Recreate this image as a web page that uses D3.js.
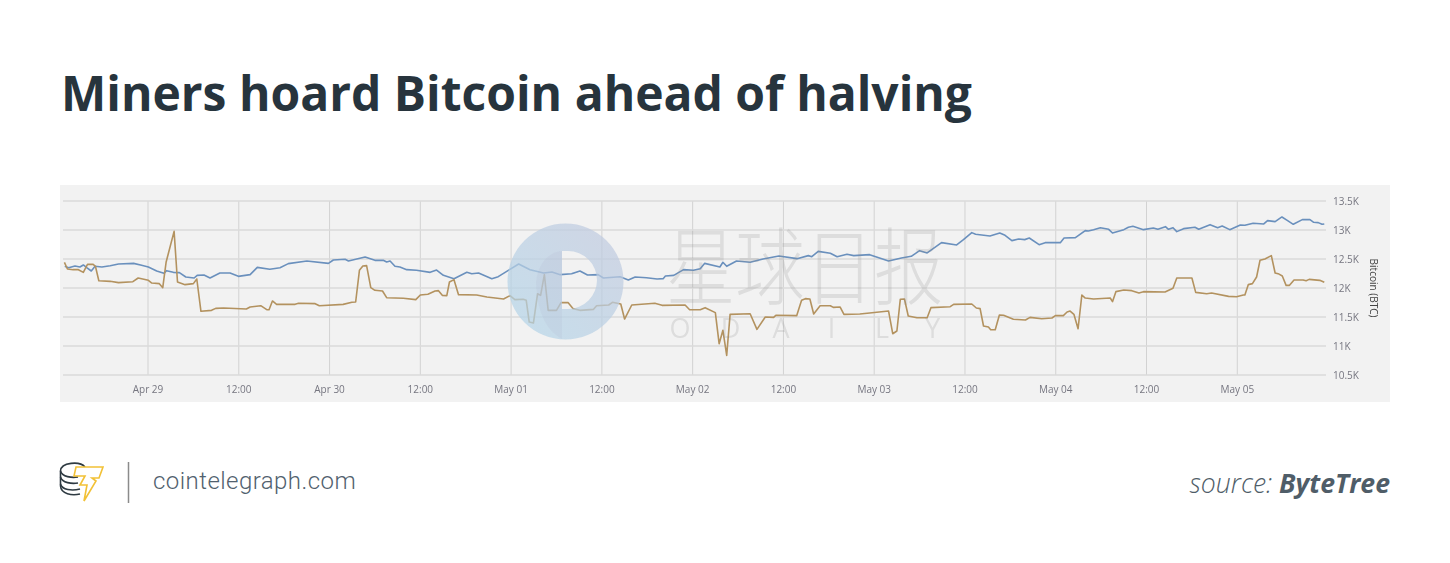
<!DOCTYPE html>
<html>
<head>
<meta charset="utf-8">
<script src="https://cdn.jsdelivr.net/npm/d3@7"></script>
<style>
  html, body { margin: 0; padding: 0; background: #fff; }
  svg { display: block; }
</style>
</head>
<body>
<div class="chart"></div>
<script>
// hours counted from Apr 29 00:00
const blueHours = [-11,-10.5,-9.65,-9,-8.55,-8.1,-7.5,-7,-6.1,-5,-3.9,-1.9,-0.85,0.05,1.15,2.1,2.45,3.35,4.15,5,6.1,6.5,7.4,8.2,9.5,10.85,11.95,13.5,14.45,16.1,17.45,18.55,21,23.85,24.5,26.05,26.5,28.7,30,31.1,31.55,32,32.65,33.3,34.2,35.5,37.3,38.15,39.05,40.45,42.15,42.8,43.7,45.45,46.3,47.85,49,50.5,52.3,53.4,54.5,56,57.1,58.1,59.5,60.2,62.4,63.5,64.4,65.9,67.3,68.1,68.4,69.5,70.8,72.1,73,73.6,75.6,76,76.5,77.8,79.6,81.3,83.4,85.8,87.3,87.75,88.6,90.2,91.1,92.4,93.3,95.4,97.9,99.6,100.9,102,103,104.9,106.9,107.8,108.9,109.4,111.3,112.6,113.3,114.2,115.1,115.9,116.5,117.8,118.6,120.6,121.1,122.6,123.9,124.3,125,125.9,127,127.5,129,129.6,130.2,131.6,132.9,133.5,134.5,134.9,135.5,136,136.9,138.4,138.9,140.4,141.4,142,143,144.4,145,146.1,147.5,148,149,149.9,150.6,151.4,152.6,153.6,154.1,154.7,155.2,155.5];
const blueValues = [12374,12350,12380,12362,12397,12350,12293,12374,12362,12385,12414,12425,12391,12362,12293,12253,12299,12270,12265,12190,12172,12218,12224,12172,12259,12259,12201,12230,12356,12322,12350,12420,12466,12425,12483,12495,12466,12535,12477,12477,12448,12466,12374,12362,12316,12305,12270,12310,12218,12161,12270,12247,12259,12161,12195,12322,12414,12316,12259,12276,12230,12247,12293,12224,12230,12172,12195,12138,12190,12178,12155,12161,12207,12218,12316,12305,12333,12425,12362,12443,12374,12466,12443,12500,12552,12506,12558,12540,12632,12598,12540,12581,12558,12575,12466,12518,12546,12644,12604,12782,12742,12834,12955,12926,12897,12949,12908,12817,12845,12834,12862,12747,12782,12782,12862,12868,12989,12983,13006,13040,13012,12949,13006,13047,13064,13006,13035,13012,13058,13012,13040,12972,13023,13047,13012,13092,13040,13069,13006,13087,13081,13116,13104,13162,13144,13225,13167,13098,13179,13179,13133,13127,13098,13104];

const brownHours = [-11.05,-10.65,-9.9,-9.2,-8.55,-8,-7.25,-6.95,-6.5,-5,-3.9,-2,-1.3,0.05,0.5,1.5,1.95,2.4,3.45,3.9,4.9,6,6.45,7,8.4,8.95,10,13,13.5,14.9,15.7,16,16.45,17,19.45,19.9,22.1,22.65,25.8,26.95,27.45,27.95,28.4,28.9,29.45,30,31,31.55,33.75,35.4,36,37,37.95,38.4,38.9,39.5,39.85,40.45,41.05,43.45,44.8,47,47.85,48.5,49.6,50,50.4,50.95,51.5,51.9,52.4,52.9,54,54.6,55.55,56.2,57.1,58.9,59.3,60.9,61.4,62.5,63,63.95,67,67.95,71,71.6,73,73.65,75,75.5,76,76.5,76.95,79.6,80.5,81.6,82.7,83,85.75,86.4,86.9,87.5,88,88.85,90.2,90.6,91.5,92,94.1,95.4,97.9,98.45,99,99.45,100,100.5,101.65,103,103.5,106.05,106.5,108.9,109.5,110,110.45,111.1,111.4,112,112.55,113.1,114.4,116,116.6,118.15,119.5,119.95,121,121.5,121.9,122.4,122.95,123.45,123.9,125,127.2,127.5,127.95,129,130.05,131,131.6,134.45,135.5,136,138,138.5,139.95,140.6,142.85,143.9,144.8,145,145.45,146,146.55,147,147.65,148.5,149,149.4,149.95,150.45,150.9,151.5,152.7,153.1,153.5,154.9,155.5];
const brownValues = [12443,12328,12316,12316,12270,12408,12408,12374,12126,12115,12092,12109,12172,12132,12086,12075,12006,12449,12977,12103,12058,12075,12155,11598,11615,11649,11655,11638,11672,11695,11626,11626,11776,11718,11718,11736,11730,11695,11718,11753,11759,12305,12380,12385,12006,11960,11948,11833,11822,11799,11879,11891,11948,11954,11873,11868,12103,12144,11885,11879,11845,11810,11868,11799,11805,11787,11413,11396,11902,11873,12230,11615,11615,11747,11747,11644,11615,11632,11695,11707,11753,11724,11465,11707,11736,11701,11707,11626,11626,11661,11575,11040,11270,10839,11546,11557,11287,11500,11494,11529,11523,11787,11816,11810,11552,11695,11695,11666,11672,11546,11552,11569,11603,11212,11258,11805,11810,11517,11488,11488,11661,11678,11718,11724,11655,11644,11345,11327,11281,11281,11534,11529,11460,11448,11494,11471,11483,11523,11523,11586,11603,11546,11298,11879,11827,11810,11827,11764,11937,11965,11954,11914,11937,11931,11994,12172,12172,11925,11902,11914,11856,11850,11879,11879,12058,12075,12190,12477,12500,12558,12259,12247,12207,12046,12046,12138,12138,12126,12149,12132,12098];

const xTickHours = [0,12,24,36,48,60,72,84,96,108,120,132,144];
const xTickLabels = ['Apr 29','12:00','Apr 30','12:00','May 01','12:00','May 02','12:00','May 03','12:00','May 04','12:00','May 05'];
const yTicks = [10500,11000,11500,12000,12500,13000,13500];
const yTickLabels = ['10.5K','11K','11.5K','12K','12.5K','13K','13.5K'];

const title = 'Miners hoard Bitcoin ahead of halving';
const yAxisTitle = 'Bitcoin (BTC)';
const siteName = 'cointelegraph.com';
const watermarkCn = '星球日报';
const watermarkEn = ['O','D','A','I','L','Y'];

const w = 1450;
const h = 563;

const svg = d3.select('.chart').append('svg')
    .attr('width', w)
    .attr('height', h);

const defs = svg.append('defs');
defs.append('filter').attr('id', 'soft')
    .append('feGaussianBlur').attr('stdDeviation', 0.45);
const ringFill = defs.append('linearGradient').attr('id', 'ringFill')
    .attr('x1', 0).attr('y1', 1).attr('x2', 1).attr('y2', 0);
ringFill.append('stop').attr('offset', '0%').attr('stop-color', '#b3d6e9');
ringFill.append('stop').attr('offset', '100%').attr('stop-color', '#c2c9de');

svg.append('text')
    .attr('x', 61)
    .attr('y', 111)
    .style('font-family', '"Open Sans"')
    .style('font-weight', 700)
    .style('font-size', '48px')
    .attr('fill', '#27343d')
    .text(title);

// chart panel
svg.append('rect')
    .attr('x', 60).attr('y', 185)
    .attr('width', 1330).attr('height', 217)
    .attr('fill', '#f2f2f2');

const xScale = d3.scaleLinear().domain([0, 144]).range([148, 1237.3]);
const yScale = d3.scaleLinear().domain([10500, 13500]).range([375, 201]);

const plot = svg.append('g').attr('filter', 'url(#soft)');

// grid
plot.append('g').selectAll('line')
    .data(xTickHours)
    .enter().append('line')
    .attr('x1', d => xScale(d)).attr('x2', d => xScale(d))
    .attr('y1', yScale(13500)).attr('y2', yScale(10500))
    .attr('stroke', '#d2d2d2').attr('stroke-width', 1);

plot.append('g').selectAll('line')
    .data(yTicks)
    .enter().append('line')
    .attr('x1', 63).attr('x2', 1326)
    .attr('y1', d => yScale(d)).attr('y2', d => yScale(d))
    .attr('stroke', '#dadada').attr('stroke-width', 1.5);

// axes
const xAxis = d3.axisBottom(xScale)
    .tickValues(xTickHours)
    .tickFormat((d, i) => xTickLabels[i])
    .tickSize(0).tickPadding(11);
const yAxis = d3.axisRight(yScale)
    .tickValues(yTicks)
    .tickFormat((d, i) => yTickLabels[i])
    .tickSize(0).tickPadding(9);

const gx = plot.append('g').attr('transform', 'translate(-0.5,375)').call(xAxis);
const gy = plot.append('g').attr('transform', 'translate(1324,0)').call(yAxis);
[gx, gy].forEach(g => {
    g.select('.domain').remove();
    g.selectAll('text')
        .style('font-family', '"Open Sans"')
        .style('font-size', '10px')
        .attr('fill', '#767680');
});

plot.append('text')
    .attr('transform', 'translate(1373,288) rotate(90)')
    .attr('text-anchor', 'middle')
    .attr('dominant-baseline', 'middle')
    .style('font-family', '"Open Sans"')
    .style('font-size', '10px')
    .attr('fill', '#444')
    .text(yAxisTitle);

// series
const line = (hours, values) => d3.line()
    .x((d, i) => xScale(hours[i]))
    .y((d, i) => yScale(values[i]))(values);

plot.append('path')
    .attr('d', line(blueHours, blueValues))
    .attr('fill', 'none')
    .attr('stroke', '#6a90bd')
    .attr('stroke-linejoin', 'round')
    .attr('stroke-width', 1.6);

plot.append('path')
    .attr('d', line(brownHours, brownValues))
    .attr('fill', 'none')
    .attr('stroke', '#b3925f')
    .attr('stroke-linejoin', 'round')
    .attr('stroke-width', 1.6);

// watermark: ring with the D cut out so the lines show through
const mark = svg.append('g').attr('filter', 'url(#soft)');
mark.append('path')
    .attr('fill-rule', 'evenodd')
    .attr('fill', 'url(#ringFill)')
    .attr('opacity', 0.72)
    .attr('d', 'M507.5,281.5 a58,58 0 1 0 116,0 a58,58 0 1 0 -116,0 Z M562,251 v58 h6 a29,29 0 0 0 0,-58 Z');
mark.append('path')
    .attr('d', 'M562,251 C547,252 537,266 536,283 C537,310 545,330 562,339 Z')
    .attr('fill', '#a7a9c6').attr('opacity', 0.13);

const markText = svg.append('g').attr('fill', '#8a8a8a').attr('opacity', 0.2);
markText.append('text')
    .attr('transform', 'translate(666,298) scale(0.825,1)')
    .style('font-family', '"Noto Sans CJK SC"')
    .style('font-weight', 300)
    .style('font-size', '84px')
    .text(watermarkCn);
markText.selectAll('.en')
    .data(watermarkEn)
    .enter().append('text')
    .attr('class', 'en')
    .attr('x', (d, i) => 680 + i * 50.5)
    .attr('y', 338)
    .attr('text-anchor', 'middle')
    .style('font-family', '"Open Sans"')
    .style('font-size', '27px')
    .text(d => d);

// footer logo
const logo = svg.append('g').attr('fill', 'none').attr('stroke-width', 1.6);
const coin = logo.append('g').attr('stroke', '#2e3a42');
coin.append('path').attr('d', 'M85,467 C80,461 61,462 60.5,471 V486 C61,494 72,496 80,494');
coin.append('path').attr('d', 'M60.5,471 C62,477 72,478 78,477');
coin.append('path').attr('d', 'M60.5,477 C62,483 72,484 78,483');
coin.append('path').attr('d', 'M60.5,484 C62,490 72,491 80,489');
logo.append('path')
    .attr('stroke', '#f2c136')
    .attr('fill', '#fff')
    .attr('d', 'M76,467 L103,467 L99,478 L92,478 L96,481 L84,501 L87,485 L80,485 L85,476 L74,476 Z');

svg.append('line')
    .attr('x1', 128.5).attr('x2', 128.5)
    .attr('y1', 462).attr('y2', 503)
    .attr('stroke', '#8b8b8b').attr('stroke-width', 1.5);

svg.append('text')
    .attr('x', 153).attr('y', 489)
    .style('font-family', 'Roboto')
    .style('font-weight', 300)
    .style('font-size', '24px')
    .attr('letter-spacing', 0.45)
    .attr('fill', '#51616e')
    .text(siteName);

const src = svg.append('text')
    .attr('x', 1390).attr('y', 493)
    .attr('text-anchor', 'end')
    .style('font-family', '"Open Sans"')
    .style('font-style', 'italic')
    .style('font-size', '26.6px')
    .attr('fill', '#4f5d68');
src.append('tspan').style('font-weight', 300).text('source: ');
src.append('tspan').style('font-weight', 700).text('ByteTree');
</script>
</body>
</html>
